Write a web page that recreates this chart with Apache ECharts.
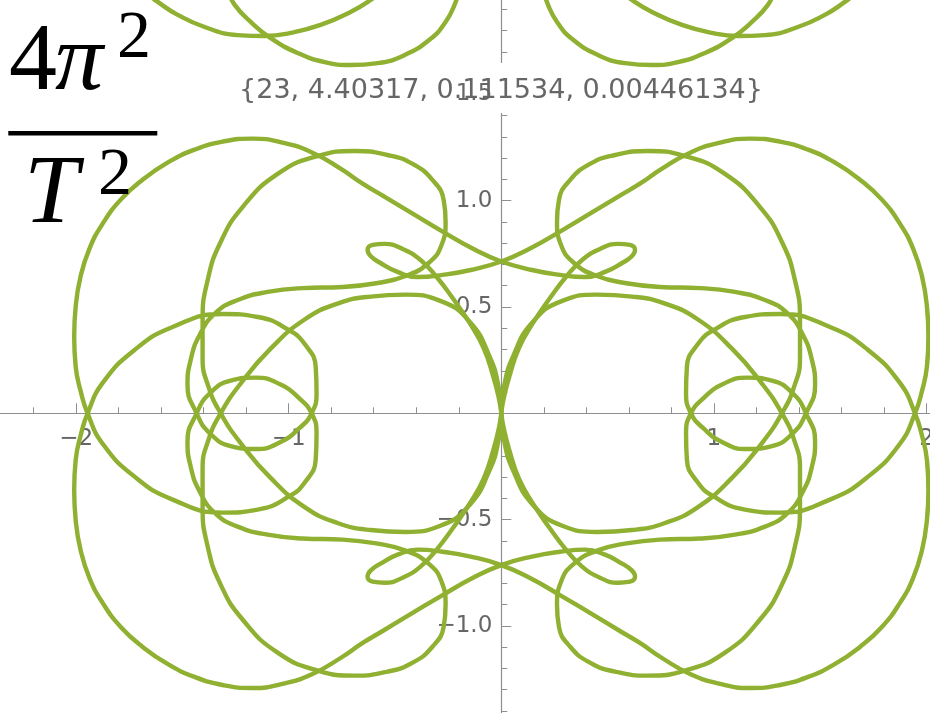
<!DOCTYPE html>
<html>
<head>
<meta charset="utf-8">
<title>Orbit</title>
<script src="https://cdn.jsdelivr.net/npm/echarts@6/dist/echarts.min.js"></script>
<style>
  html, body { margin: 0; padding: 0; background: #ffffff; }
  #chart { width: 930px; height: 713px; }
</style>
</head>
<body>
<div id="chart"></div>
<script>
// Traced orbit: one half-period from the origin, followed through the right-hand loops and back.
const orbitPath = [
  [0,0],[0.013,-0.126],[0.055,-0.267],[0.149,-0.431],[0.290,-0.530],[0.450,-0.558],[0.615,-0.549],
  [0.770,-0.516],[0.925,-0.441],[1.085,-0.304],[1.226,-0.140],[1.320,0],[1.377,0.124],[1.405,0.260],
  [1.405,0.439],[1.381,0.627],[1.320,0.806],[1.217,0.970],[1.052,1.126],[0.864,1.210],[0.690,1.234],
  [0.535,1.215],[0.417,1.173],[0.323,1.097],[0.271,1.003],[0.262,0.900],[0.281,0.792],[0.342,0.707],
  [0.450,0.646],[0.582,0.613],[0.746,0.594],[0.935,0.589],[1.099,0.571],[1.240,0.533],[1.344,0.472],
  [1.419,0.368],[1.461,0.251],[1.476,0.133],[1.433,0],[1.372,-0.093],[1.273,-0.154],[1.156,-0.168],
  [1.038,-0.135],[0.949,-0.069],[0.892,0],[0.869,0.095],[0.873,0.218],[0.921,0.321],[1.000,0.392],
  [1.146,0.453],[1.311,0.467],[1.546,0.406],[1.725,0.298],[1.875,0.143],
  [1.946,0],[1.978,-0.102],[2.002,-0.220],[2.009,-0.361],[2.002,-0.502],[1.979,-0.643],[1.937,-0.775],
  [1.875,-0.892],[1.790,-1.005],[1.687,-1.099],[1.570,-1.179],[1.443,-1.240],[1.311,-1.278],[1.170,-1.292],
  [1.029,-1.273],[0.888,-1.226],[0.756,-1.151],[0.652,-1.080],[0.558,-1.024],[0.417,-0.939],[0.276,-0.855],
  [0.135,-0.775],[0,-0.714],
  [-0.144,-0.674],[-0.276,-0.651],[-0.394,-0.641],[-0.488,-0.665],[-0.568,-0.707],[-0.615,-0.740],
  [-0.629,-0.769],[-0.605,-0.792],[-0.549,-0.797],[-0.464,-0.773],[-0.380,-0.721],[-0.304,-0.641],
  [-0.229,-0.542],[-0.149,-0.425],[-0.083,-0.307],[-0.036,-0.167],[-0.010,-0.063],[0,0]
];

// The same stretch of orbit seen reflected across the y-axis.
const orbitPathWest = [
  [0,0],[-0.013,-0.126],[-0.055,-0.267],[-0.149,-0.431],[-0.290,-0.530],[-0.450,-0.558],[-0.615,-0.549],
  [-0.770,-0.516],[-0.925,-0.441],[-1.085,-0.304],[-1.226,-0.140],[-1.320,0],[-1.377,0.124],[-1.405,0.260],
  [-1.405,0.439],[-1.381,0.627],[-1.320,0.806],[-1.217,0.970],[-1.052,1.126],[-0.864,1.210],[-0.690,1.234],
  [-0.535,1.215],[-0.417,1.173],[-0.323,1.097],[-0.271,1.003],[-0.262,0.900],[-0.281,0.792],[-0.342,0.707],
  [-0.450,0.646],[-0.582,0.613],[-0.746,0.594],[-0.935,0.589],[-1.099,0.571],[-1.240,0.533],[-1.344,0.472],
  [-1.419,0.368],[-1.461,0.251],[-1.476,0.133],[-1.433,0],[-1.372,-0.093],[-1.273,-0.154],[-1.156,-0.168],
  [-1.038,-0.135],[-0.949,-0.069],[-0.892,0],[-0.869,0.095],[-0.873,0.218],[-0.921,0.321],[-1.000,0.392],
  [-1.146,0.453],[-1.311,0.467],[-1.546,0.406],[-1.725,0.298],[-1.875,0.143],
  [-1.946,0],[-1.978,-0.102],[-2.002,-0.220],[-2.009,-0.361],[-2.002,-0.502],[-1.979,-0.643],[-1.937,-0.775],
  [-1.875,-0.892],[-1.790,-1.005],[-1.687,-1.099],[-1.570,-1.179],[-1.443,-1.240],[-1.311,-1.278],[-1.170,-1.292],
  [-1.029,-1.273],[-0.888,-1.226],[-0.756,-1.151],[-0.652,-1.080],[-0.558,-1.024],[-0.417,-0.939],[-0.276,-0.855],
  [-0.135,-0.775],[0,-0.714],
  [0.144,-0.674],[0.276,-0.651],[0.394,-0.641],[0.488,-0.665],[0.568,-0.707],[0.615,-0.740],
  [0.629,-0.769],[0.605,-0.792],[0.549,-0.797],[0.464,-0.773],[0.380,-0.721],[0.304,-0.641],
  [0.229,-0.542],[0.149,-0.425],[0.083,-0.307],[0.036,-0.167],[0.010,-0.063],[0,0]
];

// Reflected across the x-axis.
const orbitPathNorth = [
  [0,0],[0.013,0.126],[0.055,0.267],[0.149,0.431],[0.290,0.530],[0.450,0.558],[0.615,0.549],
  [0.770,0.516],[0.925,0.441],[1.085,0.304],[1.226,0.140],[1.320,0],[1.377,-0.124],[1.405,-0.260],
  [1.405,-0.439],[1.381,-0.627],[1.320,-0.806],[1.217,-0.970],[1.052,-1.126],[0.864,-1.210],[0.690,-1.234],
  [0.535,-1.215],[0.417,-1.173],[0.323,-1.097],[0.271,-1.003],[0.262,-0.900],[0.281,-0.792],[0.342,-0.707],
  [0.450,-0.646],[0.582,-0.613],[0.746,-0.594],[0.935,-0.589],[1.099,-0.571],[1.240,-0.533],[1.344,-0.472],
  [1.419,-0.368],[1.461,-0.251],[1.476,-0.133],[1.433,0],[1.372,0.093],[1.273,0.154],[1.156,0.168],
  [1.038,0.135],[0.949,0.069],[0.892,0],[0.869,-0.095],[0.873,-0.218],[0.921,-0.321],[1.000,-0.392],
  [1.146,-0.453],[1.311,-0.467],[1.546,-0.406],[1.725,-0.298],[1.875,-0.143],
  [1.946,0],[1.978,0.102],[2.002,0.220],[2.009,0.361],[2.002,0.502],[1.979,0.643],[1.937,0.775],
  [1.875,0.892],[1.790,1.005],[1.687,1.099],[1.570,1.179],[1.443,1.240],[1.311,1.278],[1.170,1.292],
  [1.029,1.273],[0.888,1.226],[0.756,1.151],[0.652,1.080],[0.558,1.024],[0.417,0.939],[0.276,0.855],
  [0.135,0.775],[0,0.714],
  [-0.144,0.674],[-0.276,0.651],[-0.394,0.641],[-0.488,0.665],[-0.568,0.707],[-0.615,0.740],
  [-0.629,0.769],[-0.605,0.792],[-0.549,0.797],[-0.464,0.773],[-0.380,0.721],[-0.304,0.641],
  [-0.229,0.542],[-0.149,0.425],[-0.083,0.307],[-0.036,0.167],[-0.010,0.063],[0,0]
];

// Rotated half a turn about the origin.
const orbitPathOpposite = [
  [0,0],[-0.013,0.126],[-0.055,0.267],[-0.149,0.431],[-0.290,0.530],[-0.450,0.558],[-0.615,0.549],
  [-0.770,0.516],[-0.925,0.441],[-1.085,0.304],[-1.226,0.140],[-1.320,0],[-1.377,-0.124],[-1.405,-0.260],
  [-1.405,-0.439],[-1.381,-0.627],[-1.320,-0.806],[-1.217,-0.970],[-1.052,-1.126],[-0.864,-1.210],[-0.690,-1.234],
  [-0.535,-1.215],[-0.417,-1.173],[-0.323,-1.097],[-0.271,-1.003],[-0.262,-0.900],[-0.281,-0.792],[-0.342,-0.707],
  [-0.450,-0.646],[-0.582,-0.613],[-0.746,-0.594],[-0.935,-0.589],[-1.099,-0.571],[-1.240,-0.533],[-1.344,-0.472],
  [-1.419,-0.368],[-1.461,-0.251],[-1.476,-0.133],[-1.433,0],[-1.372,0.093],[-1.273,0.154],[-1.156,0.168],
  [-1.038,0.135],[-0.949,0.069],[-0.892,0],[-0.869,-0.095],[-0.873,-0.218],[-0.921,-0.321],[-1.000,-0.392],
  [-1.146,-0.453],[-1.311,-0.467],[-1.546,-0.406],[-1.725,-0.298],[-1.875,-0.143],
  [-1.946,0],[-1.978,0.102],[-2.002,0.220],[-2.009,0.361],[-2.002,0.502],[-1.979,0.643],[-1.937,0.775],
  [-1.875,0.892],[-1.790,1.005],[-1.687,1.099],[-1.570,1.179],[-1.443,1.240],[-1.311,1.278],[-1.170,1.292],
  [-1.029,1.273],[-0.888,1.226],[-0.756,1.151],[-0.652,1.080],[-0.558,1.024],[-0.417,0.939],[-0.276,0.855],
  [-0.135,0.775],[0,0.714],
  [0.144,0.674],[0.276,0.651],[0.394,0.641],[0.488,0.665],[0.568,0.707],[0.615,0.740],
  [0.629,0.769],[0.605,0.792],[0.549,0.797],[0.464,0.773],[0.380,0.721],[0.304,0.641],
  [0.229,0.542],[0.149,0.425],[0.083,0.307],[0.036,0.167],[0.010,0.063],[0,0]
];

// Arcs that dip in from above the top edge.
const highArcInnerEast = [
  [0.196,2.000],[0.220,1.921],[0.262,1.841],[0.333,1.761],[0.455,1.685],[0.582,1.647],[0.709,1.638],
  [0.831,1.652],[0.958,1.695],[1.085,1.765],[1.179,1.841],[1.254,1.921],[1.282,1.982]
];
const highArcOuterEast = [
  [0.558,1.991],[0.615,1.944],[0.709,1.888],[0.850,1.827],[0.991,1.789],[1.113,1.775],[1.240,1.779],
  [1.395,1.817],[1.522,1.874],[1.616,1.935],[1.663,1.972]
];
const highArcInnerWest = [
  [-0.196,2.000],[-0.220,1.921],[-0.262,1.841],[-0.333,1.761],[-0.455,1.685],[-0.582,1.647],[-0.709,1.638],
  [-0.831,1.652],[-0.958,1.695],[-1.085,1.765],[-1.179,1.841],[-1.254,1.921],[-1.282,1.982]
];
const highArcOuterWest = [
  [-0.558,1.991],[-0.615,1.944],[-0.709,1.888],[-0.850,1.827],[-0.991,1.789],[-1.113,1.775],[-1.240,1.779],
  [-1.395,1.817],[-1.522,1.874],[-1.616,1.935],[-1.663,1.972]
];

// Axis ticks and the parameter line shown above the plot.
const xTickLabels = [-2, -1, 1, 2];
const yTickLabels = [-1.0, -0.5, 0.5, 1.0, 1.5];
const parameterText = '{23, 4.40317, 0.111534, 0.00446134}';

const orbitColor = '#8fb031';
const axisGray = '#8f8f8f';
const labelGray = '#666666';

// Plot frame: one data unit is 212.6 px and the origin sits at (501.3, 413.3).
const plotFrame = { left: -136.5, right: -209.1, top: -11.9, bottom: -19.2 };
const xAxisShift = -318.9;   // lifts the x-axis from the frame's bottom edge to y = 0
const yAxisShift = -637.8;   // moves the y-axis from the frame's left edge to x = 0

function minusSign(s) { return String(s).replace('-', '\u2212'); }

function isListed(list, v) {
  for (let i = 0; i < list.length; i++) {
    if (Math.abs(list[i] - v) < 1e-6) return true;
  }
  return false;
}

function orbitSeries(data) {
  return {
    type: 'line',
    data: data,
    symbol: 'none',
    showSymbol: false,
    smooth: 0.5,
    silent: true,
    clip: true,
    lineStyle: { color: orbitColor, width: 4.4, cap: 'round', join: 'round' },
    z: 3
  };
}

const chart = echarts.init(document.getElementById('chart'), null, { renderer: 'canvas' });

chart.setOption({
  animation: false,
  backgroundColor: '#ffffff',
  grid: {
    left: plotFrame.left, right: plotFrame.right, top: plotFrame.top, bottom: plotFrame.bottom,
    containLabel: false,
    outerBounds: { left: -600, right: -600, top: -600, bottom: -600 }
  },
  xAxis: {
    type: 'value', min: -3, max: 3, interval: 1,
    position: 'bottom', offset: xAxisShift,
    axisLine: { onZero: false, lineStyle: { color: axisGray, width: 1.2 } },
    axisTick: { inside: true, length: 10, lineStyle: { color: axisGray, width: 1 } },
    minorTick: { show: true, splitNumber: 5, length: 6, lineStyle: { color: axisGray, width: 1 } },
    splitLine: { show: false },
    minorSplitLine: { show: false },
    axisLabel: {
      show: true, inside: false,
      margin: 14, color: labelGray, fontFamily: 'DejaVu Sans', fontSize: 23,
      formatter: function (value) {
        const v = Number(value);
        return isListed(xTickLabels, v) ? minusSign(Math.round(v)) : '';
      }
    }
  },
  yAxis: {
    type: 'value', min: -1.5, max: 2, interval: 0.5,
    position: 'left', offset: yAxisShift,
    axisLine: { onZero: false, lineStyle: { color: axisGray, width: 1.2 } },
    axisTick: { inside: true, length: 10, lineStyle: { color: axisGray, width: 1 } },
    minorTick: { show: true, splitNumber: 5, length: 6, lineStyle: { color: axisGray, width: 1 } },
    splitLine: { show: false },
    minorSplitLine: { show: false },
    axisLabel: {
      show: true, inside: false,
      margin: 9, color: labelGray, fontFamily: 'DejaVu Sans', fontSize: 23,
      formatter: function (value) {
        const v = Number(value);
        return isListed(yTickLabels, v) ? minusSign(v.toFixed(1)) : '';
      }
    }
  },
  series: [
    orbitSeries(orbitPath),
    orbitSeries(orbitPathWest),
    orbitSeries(orbitPathNorth),
    orbitSeries(orbitPathOpposite),
    orbitSeries(highArcInnerEast),
    orbitSeries(highArcOuterEast),
    orbitSeries(highArcInnerWest),
    orbitSeries(highArcOuterWest)
  ],
  graphic: [
    // the parameter line sits on a white band that interrupts the y-axis
    { type: 'rect', z: 50,
      shape: { x: 496, y: 63, width: 17, height: 50 },
      style: { fill: '#ffffff' } },
    { type: 'text', x: 501, y: 90.5, z: 100,
      style: { text: parameterText, font: '27px "DejaVu Sans"', fill: labelGray,
               textAlign: 'center', textVerticalAlign: 'middle' } },
    // 4π² over T²
    { type: 'text', x: 9, y: 64, z: 100,
      style: { text: '4', font: '96px "Liberation Serif"', fill: '#000',
               textAlign: 'left', textVerticalAlign: 'middle' } },
    { type: 'text', x: 55, y: 64, z: 100,
      style: { text: '\u03c0', font: 'italic 96px "Liberation Serif"', fill: '#000',
               textAlign: 'left', textVerticalAlign: 'middle' } },
    { type: 'text', x: 117, y: 39, z: 100,
      style: { text: '2', font: '68px "Liberation Serif"', fill: '#000',
               textAlign: 'left', textVerticalAlign: 'middle' } },
    { type: 'rect', z: 100,
      shape: { x: 8.3, y: 131, width: 149, height: 4.6 },
      style: { fill: '#000' } },
    { type: 'text', x: 24, y: 196, z: 100,
      style: { text: 'T', font: 'italic 98px "Liberation Serif"', fill: '#000',
               textAlign: 'left', textVerticalAlign: 'middle' } },
    { type: 'text', x: 98, y: 176, z: 100,
      style: { text: '2', font: '68px "Liberation Serif"', fill: '#000',
               textAlign: 'left', textVerticalAlign: 'middle' } }
  ]
});
</script>
</body>
</html>
